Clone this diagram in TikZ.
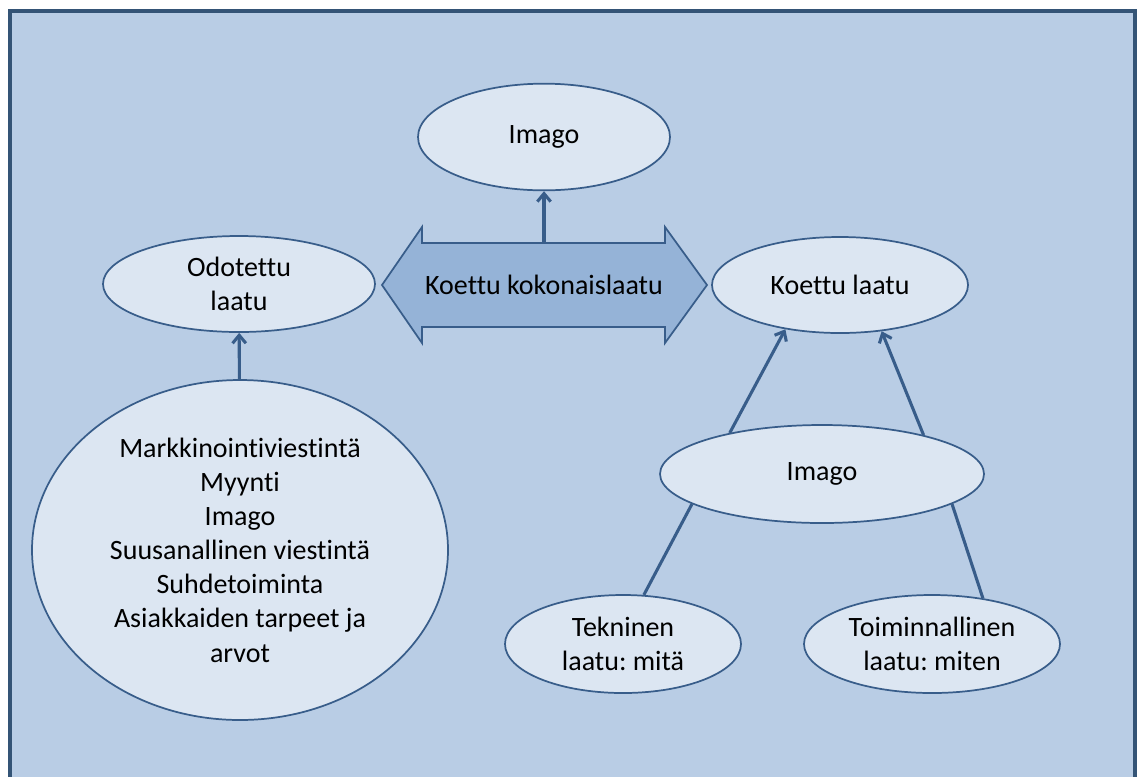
\documentclass[tikz,border=0pt]{standalone}
\usepackage{fontspec}
\setmainfont{Carlito}[Ligatures=NoCommon]
\usepackage{tikz}
\usetikzlibrary{shapes,arrows.meta,positioning,calc}
\definecolor{framefill}{RGB}{185,205,229}
\definecolor{frameline}{RGB}{52,84,118}
\definecolor{ovalfill}{RGB}{220,230,242}
\definecolor{ovalline}{RGB}{56,93,138}
\definecolor{arrowfill}{RGB}{149,179,215}
\frenchspacing

\begin{document}
\begin{tikzpicture}[
    x=0.75pt, y=-0.75pt,
    txt/.style={align=center, font=\fontsize{21}{25.6}\selectfont},
    oval/.style={ellipse, draw=ovalline, line width=1.3pt, fill=ovalfill, inner sep=0pt, txt},
    link/.style={draw=ovalline, line width=2.3pt},
    up/.style={link, -{Straight Barb[length=6pt, width=10pt]}}
]
    \useasboundingbox (0,0) rectangle (1137,776);
    \fill[white] (0,0) rectangle (1137,776);
    % Frame
    \fill[framefill] (10,11) rectangle (1135,790);
    \draw[frameline, line width=3pt] (10,790) -- (10,11) -- (1135,11) -- (1135,790);

    % Middle
    \node[oval, minimum width=189pt, minimum height=80pt] (imagotop) at (544,137) {Imago};
    \draw[ovalline, line width=1.3pt, fill=arrowfill]
        (382,285) -- (422,227) -- (422,243) -- (665,243) -- (665,227) -- (707,285)
        -- (665,343) -- (665,327) -- (422,327) -- (422,343) -- cycle;
    \node[txt, minimum width=182pt, minimum height=63pt, inner sep=0pt] (koko) at (544,285) {Koettu kokonaislaatu};

    % Left side
    \node[oval, minimum width=204pt, minimum height=72pt] (odotettu) at (239,284) {Odotettu\\laatu};
    \node[oval, minimum width=312pt, minimum height=255pt] (tekijat) at (240,550)
        {Markkinointiviestintä\\Myynti\\Imago\\Suusanallinen viestintä\\Suhdetoiminta\\Asiakkaiden tarpeet ja\\arvot};

    % Right side
    \node[oval, minimum width=192pt, minimum height=72pt] (koettu) at (840,285) {Koettu laatu};
    \node[oval, minimum width=243pt, minimum height=73.5pt] (imago) at (822,474) {Imago};
    \node[oval, minimum width=177pt, minimum height=73.5pt] (tekninen) at (623,644) {Tekninen\\laatu: mitä};
    \node[oval, minimum width=192pt, minimum height=73.5pt] (toiminnallinen) at (932,644) {Toiminnallinen\\laatu: miten};

    \draw[up] (koko) -- (imagotop);
    \draw[up] (tekijat) -- (odotettu);
    \draw[up] (imago.156) -- (koettu.219);
    \draw[up] (imago.21) -- (koettu.312);
    \draw[link] (tekninen.67) -- (imago.193);
    \draw[link] (toiminnallinen.42) -- (imago.347);
\end{tikzpicture}
\end{document}
